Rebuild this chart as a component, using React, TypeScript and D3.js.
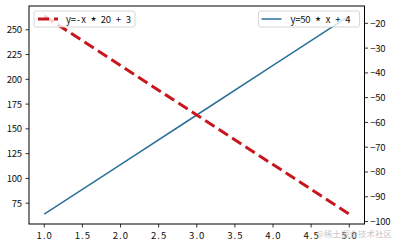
import React from "react";
import * as d3 from "d3";

const xValues = [1, 2, 3, 4, 5];
const blueValues = [64, 114, 164, 214, 264]; // left axis
const redValues = [-17, -37, -57, -77, -97]; // right axis
const xTicks = [1.0, 1.5, 2.0, 2.5, 3.0, 3.5, 4.0, 4.5, 5.0];
const leftTicks = [75, 100, 125, 150, 175, 200, 225, 250];
const rightTicks = [-100, -90, -80, -70, -60, -50, -40, -30, -20];
const blueLabel = "y=50 * x + 4";
const redLabel = "y=-x * 20 + 3";
const watermark = "@稀土掘金技术社区";

const W = 398;
const H = 246;
const M = { left: 29, right: 33.5, top: 6, bottom: 22 };
const FONT = "'Noto Sans CJK SC', 'DejaVu Sans', sans-serif";
const BLUE = "#2a7099";
const RED = "#c8161d";

function pad(ext: [number, number]): [number, number] {
  const d = (ext[1] - ext[0]) * 0.05;
  return [ext[0] - d, ext[1] + d];
}

function Mono({ x, y, text, anchor = "start", pitch = 5, size = 9.5, fill = "#111" }: any) {
  const chars = Array.from(text as string);
  const total = chars.length * pitch;
  const start = anchor === "start" ? x : anchor === "end" ? x - total : x - total / 2;
  // group into segments; asterisks get enlarged and lowered to look centered
  const segs: { s: string; i: number; star: boolean }[] = [];
  chars.forEach((c, i) => {
    const star = c === "*";
    const last = segs[segs.length - 1];
    if (last && last.star === star && !star) last.s += c;
    else segs.push({ s: c, i, star });
  });
  const ASD = 4;
  let cur = 0;
  return (
    <text
      y={y}
      textAnchor="middle"
      fontFamily={FONT}
      fontSize={size}
      fill={fill}
      style={{ whiteSpace: "pre" }}
    >
      {segs.map((sg, k) => {
        const xs = Array.from(sg.s).map((_, j) => start + (sg.i + j) * pitch + pitch / 2);
        const target = sg.star ? ASD : 0;
        const dy = target - cur;
        cur = target;
        return (
          <tspan key={k} x={xs.join(" ")} dy={dy} fontSize={sg.star ? 13 : undefined}>
            {sg.s}
          </tspan>
        );
      })}
    </text>
  );
}

export default function App() {
  const x = d3
    .scaleLinear()
    .domain(pad(d3.extent(xValues) as [number, number]))
    .range([M.left, W - M.right]);
  const yL = d3
    .scaleLinear()
    .domain(pad(d3.extent(blueValues) as [number, number]))
    .range([H - M.bottom, M.top]);
  const yR = d3
    .scaleLinear()
    .domain(pad(d3.extent(redValues) as [number, number]))
    .range([H - M.bottom, M.top]);

  const blueLine = d3
    .line<number>()
    .x((_, i) => x(xValues[i]))
    .y((d) => yL(d))(blueValues) as string;
  const redLine = d3
    .line<number>()
    .x((_, i) => x(xValues[i]))
    .y((d) => yR(d))(redValues) as string;

  const x0 = M.left;
  const x1 = W - M.right;
  const y0 = M.top;
  const y1 = H - M.bottom;

  const legY = y0 + 5;
  const legH = 16;
  const leftLeg = { x: x0 + 5, w: 101 };
  const rightLeg = { x: x1 - 5 - 101, w: 101 };

  return (
    <svg
      width={W}
      height={H}
      style={{ position: "absolute", left: 0, top: 0, display: "block", background: "#fff" }}
    >
      <rect x={0} y={0} width={W} height={H} fill="#fff" />
      <defs>
        <clipPath id="plot">
          <rect x={x0} y={y0} width={x1 - x0} height={y1 - y0} />
        </clipPath>
      </defs>
      <g clipPath="url(#plot)">
        <path d={blueLine} fill="none" stroke={BLUE} strokeWidth={1.5} />
        <path
          d={redLine}
          fill="none"
          stroke={RED}
          strokeWidth={3}
          strokeDasharray="11 5"
        />
      </g>
      {/* frame */}
      <rect x={x0} y={y0} width={x1 - x0} height={y1 - y0} fill="none" stroke="#000" strokeWidth={1} />
      {/* x ticks */}
      {xTicks.map((t) => (
        <g key={"x" + t}>
          <line x1={x(t)} x2={x(t)} y1={y1} y2={y1 + 3.5} stroke="#000" strokeWidth={0.8} />
          <Mono x={x(t)} y={y1 + 15} text={d3.format(".1f")(t)} anchor="middle" />
        </g>
      ))}
      {/* left ticks */}
      {leftTicks.map((t) => (
        <g key={"l" + t}>
          <line x1={x0 - 3.5} x2={x0} y1={yL(t)} y2={yL(t)} stroke="#000" strokeWidth={0.8} />
          <Mono x={x0 - 7} y={yL(t) + 3.5} text={String(t)} anchor="end" />
        </g>
      ))}
      {/* right ticks */}
      {rightTicks.map((t) => (
        <g key={"r" + t}>
          <line x1={x1} x2={x1 + 3.5} y1={yR(t)} y2={yR(t)} stroke="#000" strokeWidth={0.8} />
          <Mono x={x1 + 6} y={yR(t) + 3.5} text={String(t).replace("-", "\u2212")} anchor="start" />
        </g>
      ))}
      {/* left legend (red) */}
      <rect
        x={leftLeg.x}
        y={legY}
        width={leftLeg.w}
        height={legH}
        rx={2}
        fill="#fff"
        fillOpacity={0.8}
        stroke="#cccccc"
        strokeWidth={0.8}
      />
      <line
        x1={leftLeg.x + 4}
        x2={leftLeg.x + 24}
        y1={legY + legH / 2}
        y2={legY + legH / 2}
        stroke={RED}
        strokeWidth={3}
        strokeDasharray="11 5"
      />
      <Mono x={leftLeg.x + 32} y={legY + legH / 2 + 3.5} text={redLabel} />
      {/* right legend (blue) */}
      <rect
        x={rightLeg.x}
        y={legY}
        width={rightLeg.w}
        height={legH}
        rx={2}
        fill="#fff"
        fillOpacity={0.8}
        stroke="#cccccc"
        strokeWidth={0.8}
      />
      <line
        x1={rightLeg.x + 3}
        x2={rightLeg.x + 23}
        y1={legY + legH / 2}
        y2={legY + legH / 2}
        stroke={BLUE}
        strokeWidth={1.5}
      />
      <Mono x={rightLeg.x + 32} y={legY + legH / 2 + 3.5} text={blueLabel} />
      {/* watermark */}
      <text
        x={316}
        y={237}
        fontFamily={FONT}
        fontSize={8.5}
        fill="#b8b8b8"
        fillOpacity={0.8}
      >
        {watermark}
      </text>
    </svg>
  );
}
